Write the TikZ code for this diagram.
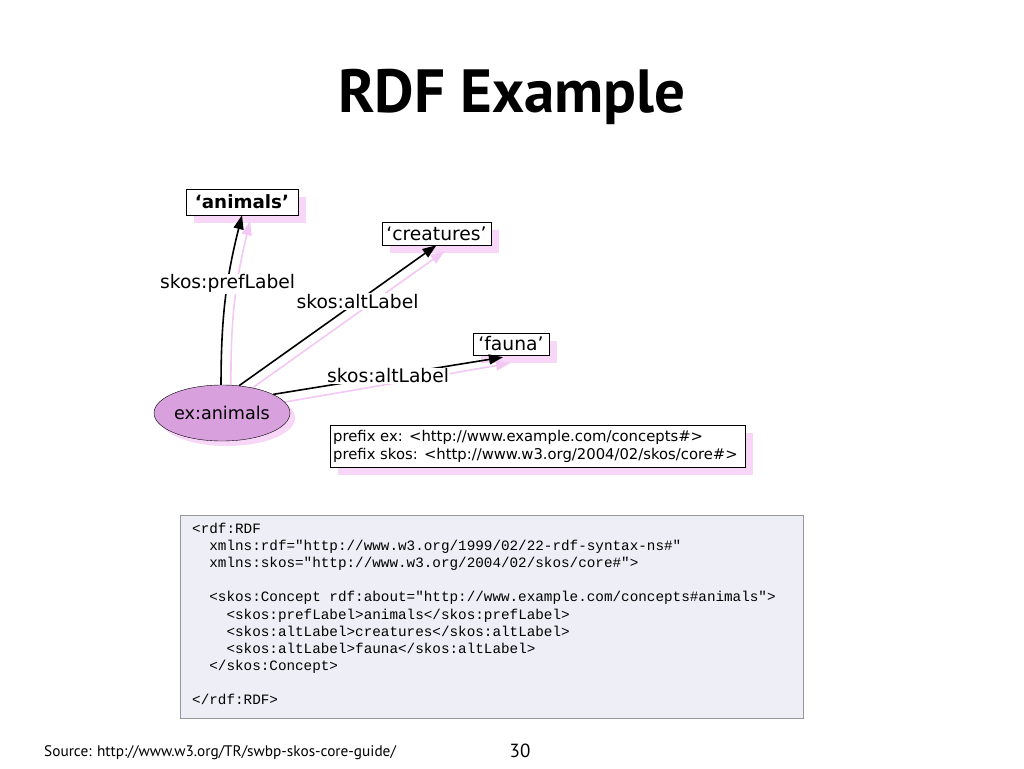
\documentclass[tikz,border=0pt]{standalone}
\usepackage{fontspec}
\setmainfont{DejaVu Sans}
\newfontfamily\titlefont{PT Sans}
\newfontfamily\codefont{Liberation Mono}
\usetikzlibrary{arrows.meta,shapes.geometric,calc}
\pgfdeclarelayer{paper}
\pgfdeclarelayer{shade}
\pgfsetlayers{paper,shade,main}
\definecolor{shadowpink}{RGB}{248,214,248}
\definecolor{arrowpink}{RGB}{244,200,244}
\definecolor{plumfill}{RGB}{216,160,220}
\definecolor{codebg}{RGB}{238,238,247}
\definecolor{codeline}{RGB}{150,150,155}
\tikzset{
  literal/.style={draw=black,fill=white,inner sep=0pt,minimum height=23pt},
  boxshadow/.style={fill=shadowpink,draw=none},
  relation/.style={-{Triangle[length=14pt,width=10pt]},line width=1.6pt},
  relshadow/.style={-{Triangle[length=14pt,width=10pt]},line width=1.6pt,arrowpink},
  rellabel/.style={fill=white,inner sep=1pt,font=\fontsize{18.7}{21}\selectfont}
}
\begin{document}
\begin{tikzpicture}[x=1pt,y=-1pt]
 \begin{pgfonlayer}{paper}
  \fill[white] (0,0) rectangle (1024,768);
 \end{pgfonlayer}
 \useasboundingbox (0,0) rectangle (1024,768);
 \node[font=\titlefont\bfseries\fontsize{61}{70}\selectfont] (title) at (512,97) {RDF Example};
 % the graph
 \node[literal,minimum width=112pt,minimum height=26pt,font=\bfseries\fontsize{18.3}{20}\selectfont] (lblAnimals) at (242,202) {‘animals’};
 \node[literal,minimum width=109pt,font=\fontsize{18.7}{20}\selectfont] (lblCreatures) at (436.5,233.5) {‘creatures’};
 \node[literal,minimum width=76pt,minimum height=22pt,font=\fontsize{18.7}{20}\selectfont] (lblFauna) at (511,344) {‘fauna’};
 \node[ellipse,draw=black,fill=plumfill,minimum width=136pt,minimum height=56pt,inner sep=0pt,font=\fontsize{17.6}{20}\selectfont] (exAnimals) at (222,413) {ex:animals};
 \coordinate (faunaIn) at ($(lblFauna.south)+(-8,2)$);
 \draw[relation] (exAnimals.92) to[bend left=7] node[rellabel,pos=0.6] (nPref) {skos:prefLabel} (lblAnimals.south);
 \draw[relation] (exAnimals.58) -- node[rellabel,pos=0.6] (nAlt1) {skos:altLabel} (lblCreatures.south);
 \draw[relation] (exAnimals.20) -- node[rellabel,pos=0.5] (nAlt2) {skos:altLabel} (faunaIn);
 % namespace prefixes
 \node[draw=black,fill=white,minimum width=415pt,minimum height=42pt,anchor=north west,inner sep=0pt] (prefixes) at (330,425) {};
 \node[anchor=west,align=left,inner sep=0pt,font=\fontsize{14.8}{18}\selectfont] (prefixText) at (333,446) {prefix ex: <http://www.example.com/concepts\#>\\prefix skos: <http://www.w3.org/2004/02/skos/core\#>};
 % shadows, behind everything
 \begin{pgfonlayer}{shade}
  \fill[boxshadow] (194,197) rectangle (306,223);
  \fill[boxshadow] (390,230) rectangle (499,253);
  \fill[boxshadow] (481,341) rectangle (557,363);
  \fill[boxshadow] (338,433) rectangle (753,475);
  \fill[boxshadow] (227,418) ellipse (68 and 28);
  \draw[relshadow] ($(exAnimals.88)+(8,4)$) to[bend left=7] ($(lblAnimals.south)+(8,6)$);
  \draw[relshadow] ($(exAnimals.58)+(8,6)$) -- ($(lblCreatures.south)+(8,6)$);
  \draw[relshadow] ($(exAnimals.18)+(6,7)$) -- ($(faunaIn)+(7,6)$);
 \end{pgfonlayer}
 % rdf/xml listing
 \draw[codeline,fill=codebg,line width=1pt] (180,515) rectangle (803,718);
 \node[anchor=north west,align=left,inner sep=0pt,font=\codefont\fontsize{14.3}{17.1}\selectfont] (rdfxml) at (192,523) {<rdf:RDF\\
\hphantom{xx}xmlns:rdf="http://www.w3.org/1999/02/22-rdf-syntax-ns\#"\\
\hphantom{xx}xmlns:skos="http://www.w3.org/2004/02/skos/core\#">\\
\mbox{}\\
\hphantom{xx}<skos:Concept rdf:about="http://www.example.com/concepts\#animals">\\
\hphantom{xxxx}<skos:prefLabel>animals</skos:prefLabel>\\
\hphantom{xxxx}<skos:altLabel>creatures</skos:altLabel>\\
\hphantom{xxxx}<skos:altLabel>fauna</skos:altLabel>\\
\hphantom{xx}</skos:Concept>\\
\mbox{}\\
</rdf:RDF>};
 % footer
 \node[anchor=west,inner sep=0pt,font=\titlefont\fontsize{15.3}{17}\selectfont] (source) at (44,753) {Source: http://www.w3.org/TR/swbp-skos-core-guide/};
 \node[inner sep=0pt,font=\titlefont\fontsize{19}{22}\selectfont] (pageNo) at (520,751) {30};
\end{tikzpicture}
\end{document}
